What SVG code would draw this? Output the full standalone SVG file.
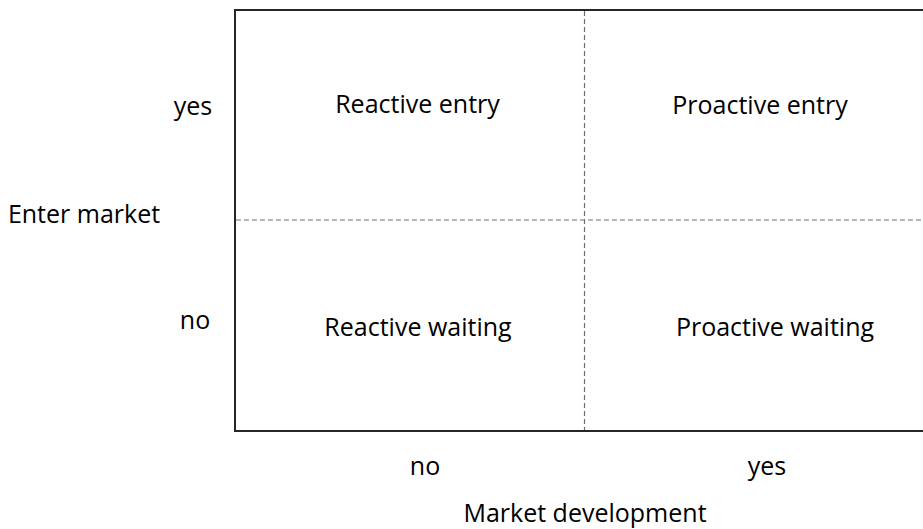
<svg xmlns="http://www.w3.org/2000/svg" width="923" height="529" viewBox="0 0 923 529">
  <style>
    .lbl { font-family: "Open Sans", "Liberation Sans", sans-serif; font-size: 25px; fill: #000; text-anchor: middle; }
    .frame { fill: none; stroke: #262626; stroke-width: 2; }
    .divider { stroke: #6e6e6e; stroke-width: 1.2; stroke-dasharray: 5 3; fill: none; }
  </style>
  <rect width="923" height="529" fill="#ffffff"/>

  <!-- quadrant frame -->
  <g id="matrix">
    <rect class="frame" x="235" y="10" width="700" height="421"/>
  </g>

  <!-- dividing lines between quadrants -->
  <g id="connectors">
    <line class="divider" x1="584.5" y1="11" x2="584.5" y2="430"/>
    <line class="divider" x1="236" y1="220" x2="923" y2="220"/>
  </g>

  <g id="reactive-entry"><text class="lbl" x="417.5" y="113">Reactive entry</text></g>
  <g id="proactive-entry"><text class="lbl" x="760" y="114">Proactive entry</text></g>
  <g id="reactive-waiting"><text class="lbl" x="418" y="336">Reactive waiting</text></g>
  <g id="proactive-waiting"><text class="lbl" x="775" y="336">Proactive waiting</text></g>

  <!-- vertical axis -->
  <g id="axis-y">
    <text class="lbl" x="193" y="115">yes</text>
    <text class="lbl" x="84" y="223">Enter market</text>
    <text class="lbl" x="195" y="329">no</text>
  </g>

  <!-- horizontal axis -->
  <g id="axis-x">
    <text class="lbl" x="425" y="475">no</text>
    <text class="lbl" x="767" y="475">yes</text>
    <text class="lbl" x="585" y="522">Market development</text>
  </g>
</svg>
